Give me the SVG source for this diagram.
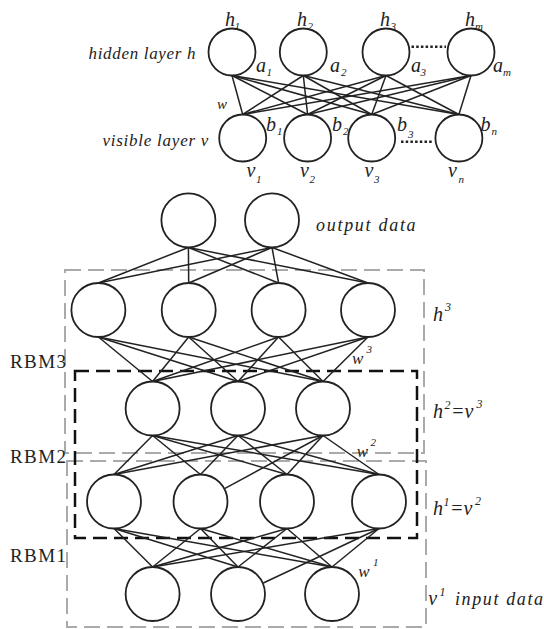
<svg xmlns="http://www.w3.org/2000/svg" width="544" height="629" viewBox="0 0 544 629">
<style>
.n{fill:#fff;stroke:#222;stroke-width:1.8}
.e{stroke:#222;stroke-width:1.5;fill:none}
.it{font-family:"Liberation Serif","Times New Roman",serif;font-style:italic;fill:#222}
.rm{font-family:"Liberation Serif","Times New Roman",serif;fill:#222}
.gb{fill:none;stroke:#aaa;stroke-width:2;stroke-dasharray:16 7}
.bb{fill:none;stroke:#111;stroke-width:2.5;stroke-dasharray:14 7}
.dots{stroke:#222;stroke-width:2.5;stroke-dasharray:2.5 2.2}
</style>
<rect width="544" height="629" fill="#fff"/>
<g id="boxes">
<rect class="gb" x="65" y="270" width="359" height="183"/>
<rect class="gb" x="67" y="461" width="359" height="166"/>
<rect class="bb" x="75" y="371" width="342" height="167"/>
</g>
<g id="connectors">
<line class="e" x1="232" y1="75.5" x2="242.7" y2="114.5"/><line class="e" x1="232" y1="75.5" x2="307.6" y2="114.5"/><line class="e" x1="232" y1="75.5" x2="371.7" y2="114.5"/><line class="e" x1="232" y1="75.5" x2="458.9" y2="114.5"/>
<line class="e" x1="303.3" y1="75.5" x2="242.7" y2="114.5"/><line class="e" x1="303.3" y1="75.5" x2="307.6" y2="114.5"/><line class="e" x1="303.3" y1="75.5" x2="371.7" y2="114.5"/><line class="e" x1="303.3" y1="75.5" x2="458.9" y2="114.5"/>
<line class="e" x1="386" y1="75.5" x2="242.7" y2="114.5"/><line class="e" x1="386" y1="75.5" x2="307.6" y2="114.5"/><line class="e" x1="386" y1="75.5" x2="371.7" y2="114.5"/><line class="e" x1="386" y1="75.5" x2="458.9" y2="114.5"/>
<line class="e" x1="471" y1="75.5" x2="242.7" y2="114.5"/><line class="e" x1="471" y1="75.5" x2="307.6" y2="114.5"/><line class="e" x1="471" y1="75.5" x2="371.7" y2="114.5"/><line class="e" x1="471" y1="75.5" x2="458.9" y2="114.5"/>
<line class="e" x1="188.4" y1="247.5" x2="98.4" y2="283"/><line class="e" x1="188.4" y1="247.5" x2="188.7" y2="283"/><line class="e" x1="188.4" y1="247.5" x2="278.6" y2="283"/><line class="e" x1="188.4" y1="247.5" x2="368" y2="283"/>
<line class="e" x1="272" y1="247.5" x2="98.4" y2="283"/><line class="e" x1="272" y1="247.5" x2="188.7" y2="283"/><line class="e" x1="272" y1="247.5" x2="278.6" y2="283"/><line class="e" x1="272" y1="247.5" x2="368" y2="283"/>
<line class="e" x1="98.4" y1="337" x2="152.6" y2="381.5"/><line class="e" x1="98.4" y1="337" x2="238" y2="381.5"/><line class="e" x1="98.4" y1="337" x2="323" y2="381.5"/>
<line class="e" x1="188.7" y1="337" x2="152.6" y2="381.5"/><line class="e" x1="188.7" y1="337" x2="238" y2="381.5"/><line class="e" x1="188.7" y1="337" x2="323" y2="381.5"/>
<line class="e" x1="278.6" y1="337" x2="152.6" y2="381.5"/><line class="e" x1="278.6" y1="337" x2="238" y2="381.5"/><line class="e" x1="278.6" y1="337" x2="323" y2="381.5"/>
<line class="e" x1="368" y1="337" x2="152.6" y2="381.5"/><line class="e" x1="368" y1="337" x2="238" y2="381.5"/><line class="e" x1="368" y1="337" x2="323" y2="381.5"/>
<line class="e" x1="152.6" y1="435.5" x2="114" y2="474.5"/><line class="e" x1="152.6" y1="435.5" x2="200.5" y2="474.5"/><line class="e" x1="152.6" y1="435.5" x2="287" y2="474.5"/><line class="e" x1="152.6" y1="435.5" x2="379" y2="474.5"/>
<line class="e" x1="238" y1="435.5" x2="114" y2="474.5"/><line class="e" x1="238" y1="435.5" x2="200.5" y2="474.5"/><line class="e" x1="238" y1="435.5" x2="287" y2="474.5"/><line class="e" x1="238" y1="435.5" x2="379" y2="474.5"/>
<line class="e" x1="323" y1="435.5" x2="114" y2="474.5"/><line class="e" x1="323" y1="435.5" x2="225" y2="488.3"/><line class="e" x1="323" y1="435.5" x2="287" y2="474.5"/><line class="e" x1="323" y1="435.5" x2="379" y2="474.5"/>
<line class="e" x1="114" y1="528.5" x2="152.6" y2="567"/><line class="e" x1="114" y1="528.5" x2="238" y2="567"/><line class="e" x1="114" y1="528.5" x2="332" y2="567"/>
<line class="e" x1="200.5" y1="528.5" x2="152.6" y2="567"/><line class="e" x1="200.5" y1="528.5" x2="238" y2="567"/><line class="e" x1="200.5" y1="528.5" x2="332" y2="567"/>
<line class="e" x1="287" y1="528.5" x2="152.6" y2="567"/><line class="e" x1="287" y1="528.5" x2="238" y2="567"/><line class="e" x1="287" y1="528.5" x2="332" y2="567"/>
<line class="e" x1="379" y1="528.5" x2="152.6" y2="567"/><line class="e" x1="379" y1="528.5" x2="263.3" y2="583"/><line class="e" x1="379" y1="528.5" x2="332" y2="567"/>
<line class="dots" x1="411.5" y1="46.7" x2="446" y2="46.7"/>
<line class="dots" x1="401" y1="141.7" x2="433" y2="141.7"/>
</g>
<g id="hidden-layer">
<g id="h1"><circle class="n" cx="232" cy="52" r="23.5"/></g>
<g id="h2"><circle class="n" cx="303.3" cy="52" r="23.5"/></g>
<g id="h3"><circle class="n" cx="386" cy="52" r="23.5"/></g>
<g id="hm"><circle class="n" cx="471" cy="52" r="23.5"/></g>
</g>
<g id="visible-layer">
<g id="v1"><circle class="n" cx="242.7" cy="138" r="23.5"/></g>
<g id="v2"><circle class="n" cx="307.6" cy="138" r="23.5"/></g>
<g id="v3"><circle class="n" cx="371.7" cy="138" r="23.5"/></g>
<g id="vn"><circle class="n" cx="458.9" cy="138" r="23.5"/></g>
</g>
<g id="output-layer">
<g id="o1"><circle class="n" cx="188.4" cy="220.3" r="27"/></g>
<g id="o2"><circle class="n" cx="272" cy="220.3" r="27"/></g>
</g>
<g id="h3-layer">
<g id="h3a"><circle class="n" cx="98.4" cy="310" r="27"/></g>
<g id="h3b"><circle class="n" cx="188.7" cy="310" r="27"/></g>
<g id="h3c"><circle class="n" cx="278.6" cy="310" r="27"/></g>
<g id="h3d"><circle class="n" cx="368" cy="310" r="27"/></g>
</g>
<g id="h2-layer">
<g id="h2a"><circle class="n" cx="152.6" cy="408.5" r="27"/></g>
<g id="h2b"><circle class="n" cx="238" cy="408.5" r="27"/></g>
<g id="h2c"><circle class="n" cx="323" cy="408.5" r="27"/></g>
</g>
<g id="h1-layer">
<g id="h1a"><circle class="n" cx="114" cy="501.5" r="27"/></g>
<g id="h1b"><circle class="n" cx="200.5" cy="501.5" r="27"/></g>
<g id="h1c"><circle class="n" cx="287" cy="501.5" r="27"/></g>
<g id="h1d"><circle class="n" cx="379" cy="501.5" r="27"/></g>
</g>
<g id="v1-layer">
<g id="v1a"><circle class="n" cx="152.6" cy="594" r="27"/></g>
<g id="v1b"><circle class="n" cx="238" cy="594" r="27"/></g>
<g id="v1c"><circle class="n" cx="332" cy="594" r="27"/></g>
</g>
<g id="labels">
<text class="it" x="88.5" y="58.5" font-size="17" textLength="107" lengthAdjust="spacing">hidden layer h</text>
<text class="it" x="102.4" y="145.7" font-size="17" textLength="106" lengthAdjust="spacing">visible layer v</text>
<text class="it" x="217" y="108.5" font-size="15">w</text>
<g font-size="20" class="it">
<text x="225" y="26">h</text><text x="297" y="26">h</text><text x="380" y="26">h</text><text x="465" y="26">h</text>
<text x="256" y="72">a</text><text x="330" y="72">a</text><text x="411" y="72">a</text><text x="493" y="72">a</text>
<text x="266" y="131">b</text><text x="332" y="131">b</text><text x="397" y="131">b</text><text x="480.5" y="131">b</text>
<text x="246.5" y="177">v</text><text x="300" y="177">v</text><text x="364.6" y="177">v</text><text x="448" y="177">v</text>
</g>
<g font-size="11" class="it">
<text x="234.5" y="30">1</text><text x="307.5" y="30">2</text><text x="390.5" y="30">3</text><text x="475" y="30">m</text>
<text x="266.5" y="76">1</text><text x="341" y="76">2</text><text x="420.5" y="76">3</text><text x="503" y="76">m</text>
<text x="277" y="135">1</text><text x="343" y="135">2</text><text x="408" y="138">3</text><text x="491.5" y="135">n</text>
<text x="256" y="183">1</text><text x="309.5" y="183">2</text><text x="374" y="183">3</text><text x="458.5" y="183">n</text>
</g>
<text class="it" x="316" y="230.7" font-size="18" textLength="99.6" lengthAdjust="spacing">output data</text>
<text class="it" x="433" y="321" font-size="20">h</text><text class="it" x="445" y="311" font-size="12">3</text>
<text class="it" x="352" y="363.5" font-size="17">w</text><text class="it" x="366.5" y="353" font-size="11">3</text>
<text class="it" x="433" y="418" font-size="20">h</text><text class="it" x="444.5" y="409" font-size="12">2</text><text class="it" x="451" y="418" font-size="20">=v</text><text class="it" x="476.5" y="408" font-size="12">3</text>
<text class="it" x="356.7" y="457" font-size="17">w</text><text class="it" x="370.5" y="446" font-size="11">2</text>
<text class="it" x="433" y="515" font-size="20">h</text><text class="it" x="443.5" y="506" font-size="12">1</text><text class="it" x="450" y="515" font-size="20">=v</text><text class="it" x="475" y="505" font-size="12">2</text>
<text class="it" x="358.3" y="577" font-size="17">w</text><text class="it" x="373" y="566" font-size="11">1</text>
<text class="it" x="428.3" y="605" font-size="20">v</text><text class="it" x="439.5" y="596" font-size="12">1</text>
<text class="it" x="455" y="605" font-size="18" textLength="88" lengthAdjust="spacing">input data</text>
<text class="rm" x="10" y="368" font-size="19" textLength="56" lengthAdjust="spacing">RBM3</text>
<text class="rm" x="10" y="463" font-size="19" textLength="56" lengthAdjust="spacing">RBM2</text>
<text class="rm" x="10" y="562" font-size="19" textLength="56" lengthAdjust="spacing">RBM1</text>
</g>
</svg>
